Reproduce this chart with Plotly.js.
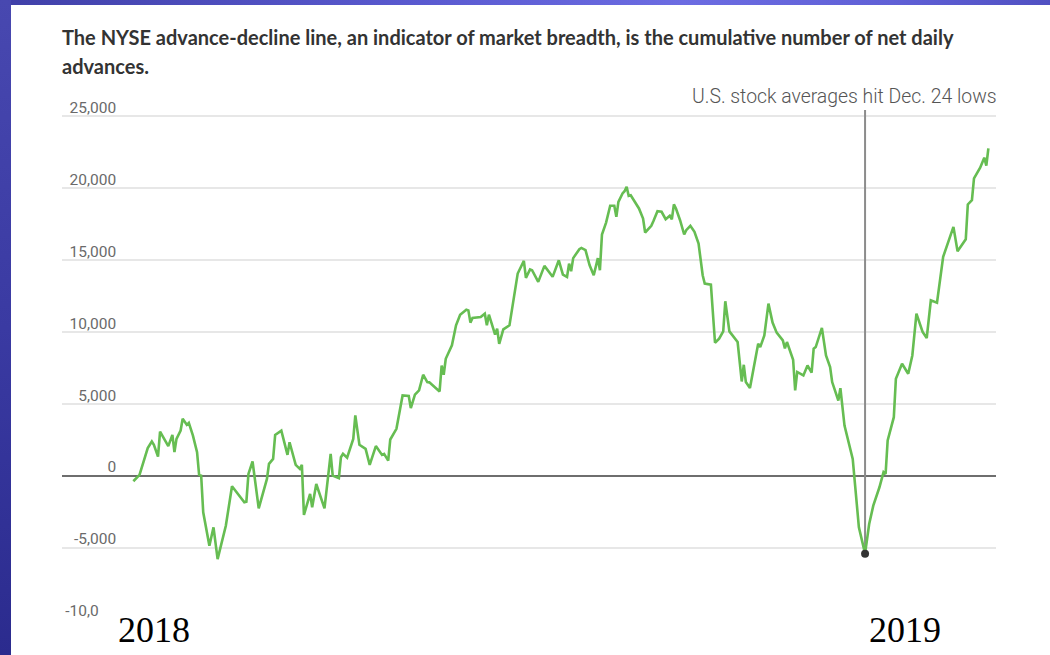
<!DOCTYPE html>
<html>
<head>
<meta charset="utf-8">
<script src="https://cdn.plot.ly/plotly-3.0.1.min.js"></script>
<style>
  html,body{margin:0;padding:0;width:1050px;height:655px;overflow:hidden;background:#fff;}
  #topbar{position:absolute;left:0;top:0;width:1050px;height:5px;background:linear-gradient(to right,#4040a8 0%,#5a5ad0 40%,#6c6ce2 65%,#6060d6 85%,#5050c2 100%);}
  #leftbar{position:absolute;left:0;top:0;width:11px;height:655px;background:linear-gradient(to bottom,#4848b0 0%,#3a3aa2 50%,#2b2b8e 100%);}
  #chart{position:absolute;left:11px;top:5px;width:1039px;height:650px;}
</style>
</head>
<body>
<div id="topbar"></div>
<div id="leftbar"></div>
<div id="chart"></div>
<script>
// ---- data ----
const dates = [
"2018-01-02","2018-01-05","2018-01-09","2018-01-11","2018-01-12","2018-01-14","2018-01-15","2018-01-19","2018-01-21","2018-01-22","2018-01-23","2018-01-25","2018-01-26","2018-01-28","2018-01-29","2018-01-31",
"2018-02-02","2018-02-03","2018-02-04","2018-02-05","2018-02-08","2018-02-10","2018-02-12","2018-02-16","2018-02-19","2018-02-25","2018-02-26","2018-02-27",
"2018-03-01","2018-03-04","2018-03-08","2018-03-09","2018-03-11","2018-03-12","2018-03-15","2018-03-18","2018-03-19","2018-03-22","2018-03-24","2018-03-25","2018-03-26","2018-03-29","2018-03-30",
"2018-04-01","2018-04-05","2018-04-08","2018-04-09","2018-04-12","2018-04-13","2018-04-14","2018-04-16","2018-04-19","2018-04-20","2018-04-22","2018-04-25","2018-04-27","2018-04-30",
"2018-05-03","2018-05-04","2018-05-06","2018-05-07","2018-05-10","2018-05-13","2018-05-16","2018-05-17","2018-05-19","2018-05-21","2018-05-23","2018-05-25","2018-05-26","2018-05-31",
"2018-06-01","2018-06-02","2018-06-03","2018-06-06","2018-06-08","2018-06-10","2018-06-13","2018-06-14","2018-06-15","2018-06-16","2018-06-20","2018-06-22","2018-06-23","2018-06-24","2018-06-25","2018-06-27","2018-06-28","2018-06-29",
"2018-07-01","2018-07-04","2018-07-08","2018-07-11","2018-07-12","2018-07-14","2018-07-15","2018-07-18","2018-07-21","2018-07-25","2018-07-28","2018-07-30",
"2018-08-01","2018-08-02","2018-08-03","2018-08-04","2018-08-07","2018-08-08","2018-08-10","2018-08-12","2018-08-14","2018-08-16","2018-08-17","2018-08-18","2018-08-20","2018-08-22","2018-08-24","2018-08-25","2018-08-26","2018-08-28","2018-08-29","2018-08-30","2018-08-31",
"2018-09-01","2018-09-05","2018-09-07","2018-09-08","2018-09-11","2018-09-12","2018-09-14","2018-09-16","2018-09-18","2018-09-20","2018-09-21","2018-09-22","2018-09-23","2018-09-25","2018-09-27","2018-09-28","2018-09-30",
"2018-10-02","2018-10-04","2018-10-06","2018-10-07","2018-10-10","2018-10-12","2018-10-14","2018-10-16","2018-10-17","2018-10-19","2018-10-23","2018-10-25","2018-10-26","2018-10-27","2018-10-29","2018-10-31",
"2018-11-02","2018-11-03","2018-11-05","2018-11-07","2018-11-09","2018-11-11","2018-11-14","2018-11-15","2018-11-16","2018-11-19","2018-11-20","2018-11-21","2018-11-24","2018-11-26","2018-11-28","2018-11-29","2018-11-30",
"2018-12-03","2018-12-05","2018-12-07","2018-12-08","2018-12-11","2018-12-12","2018-12-14","2018-12-17","2018-12-18","2018-12-21","2018-12-24","2018-12-26","2018-12-27","2018-12-28","2018-12-31",
"2019-01-02","2019-01-03","2019-01-04","2019-01-07","2019-01-08","2019-01-11","2019-01-14","2019-01-16","2019-01-18","2019-01-21","2019-01-23","2019-01-25","2019-01-28","2019-01-31",
"2019-02-05","2019-02-07","2019-02-11","2019-02-12","2019-02-14","2019-02-15","2019-02-18","2019-02-20","2019-02-21","2019-02-22"
];
const advDecline = [
-370,70,1930,2390,2160,1340,3080,2070,2850,1650,2570,3150,3970,3550,3690,2800,
1650,70,20,-2530,-4850,-3570,-5780,-3460,-720,-1830,-1790,140,
1000,-2250,-210,835,1180,2850,3150,1460,2340,770,490,770,-2710,-1250,-2180,
-560,-2250,1530,20,-160,1300,1530,1260,2570,4200,2160,1880,770,2070,
1460,1530,1060,2530,3270,5590,5550,4710,5640,5940,7030,6520,6500,5870,
7670,7030,8140,9070,10460,11200,11550,11500,10650,10970,11040,11270,10460,11200,10690,9810,10230,9180,
10180,10460,14060,14940,13760,14350,14290,13480,14590,13830,14980,13990,
13830,14750,14220,15130,15750,15840,15680,14630,13940,15130,14290,16770,17600,18770,18770,18000,19040,19620,19780,20090,19460,
19500,18580,17880,16910,17370,17690,18390,18350,17830,18070,17830,18860,18580,17760,16770,17070,17370,
16960,16140,13940,13360,13290,9250,9530,10040,12130,10040,9300,6560,7720,6520,6100,7560,
9180,8950,9760,11970,10650,9950,9410,8860,9300,8070,5940,7220,6980,7670,7170,8840,8950,
10280,8370,7560,6520,5240,6100,3500,1650,1180,-3570,-5400,-3340,-2760,-2070,-790,
260,140,2460,4080,6750,7790,7100,8370,11270,10000,9580,12200,12040,15220,
17300,15610,16440,18860,19160,20670,21410,22110,21550,22750
];
const yTickVals = [-10000,-5000,0,5000,10000,15000,20000,25000];
const yTickText = ["-10,000","-5,000","0","5,000","10,000","15,000","20,000","25,000"];
const markerDate = "2018-12-24";
const markerLabel = "U.S. stock averages hit Dec. 24 lows";
const yearLabels = ["2018","2019"];
const titleLine1 = "The NYSE advance-decline line, an indicator of market breadth, is the cumulative number of net daily";
const titleLine2 = "advances.";

const markerValue = advDecline[dates.indexOf(markerDate)];
const yRange = [-10010, 25420];
const xRange = ["2017-11-28 07:00", "2019-02-25 17:00"];

const traces = [
  {x: dates, y: advDecline, type: 'scatter', mode: 'lines',
   line: {color: '#66bd52', width: 2.6}, hoverinfo: 'x+y'},
  {x: [markerDate], y: [markerValue], type: 'scatter', mode: 'markers',
   marker: {color: '#333333', size: 8}, hoverinfo: 'skip'},
  {x: [], y: [], yaxis: 'y2', type: 'scatter', mode: 'lines', hoverinfo: 'skip', showlegend: false}
];

const span = t => '<span style="font-size:20px">' + t + '</span>';

const layout = {
  width: 1039, height: 650,
  margin: {l: 51, r: 54, t: 105, b: 35},
  paper_bgcolor: '#ffffff', plot_bgcolor: '#ffffff',
  showlegend: false,
  title: {
    text: span(titleLine1) + '<br>' + span(titleLine2),
    font: {family: 'Lato, "Open Sans", sans-serif', size: 22, color: '#333333', weight: 700},
    xref: 'container', x: 51/1039, xanchor: 'left',
    yref: 'container', y: 1 - 40/650, yanchor: 'top'
  },
  xaxis: {type: 'date', range: xRange, showgrid: false, zeroline: false,
          showticklabels: false, ticks: '', showline: false, fixedrange: true},
  yaxis: {range: yRange, tickvals: yTickVals, showticklabels: false,
          showgrid: true, gridcolor: '#e7e7e7', gridwidth: 1.5,
          zeroline: true, zerolinecolor: '#6e6e6e', zerolinewidth: 1.6,
          ticks: '', showline: false, fixedrange: true},
  yaxis2: {overlaying: 'y', anchor: 'free', position: 0.058, side: 'left',
           range: yRange, tickvals: yTickVals, ticktext: yTickText,
           showgrid: false, zeroline: false, ticks: '', showline: false,
           ticklabelposition: 'outside top', ticklabelshift: 2, fixedrange: true,
           tickfont: {family: 'Roboto, sans-serif', size: 15.5, color: '#6a6a6a'}},
  shapes: [
    {type: 'line', xref: 'x', yref: 'y', x0: markerDate, x1: markerDate,
     y0: markerValue, y1: yRange[1], line: {color: '#8c8c8c', width: 2}, layer: 'between'},
    {type: 'rect', xref: 'paper', yref: 'paper', x0: 0.0395, x1: 0.1745, y0: -0.07, y1: 0.032,
     fillcolor: '#ffffff', line: {width: 0}, layer: 'above'},
    {type: 'rect', xref: 'paper', yref: 'paper', x0: 0.8426, x1: 0.9797, y0: -0.07, y1: 0.032,
     fillcolor: '#ffffff', line: {width: 0}, layer: 'above'}
  ],
  annotations: [
    {text: markerLabel, xref: 'paper', yref: 'paper', x: 1, xanchor: 'right', xshift: 3,
     y: 1.0255, yanchor: 'middle', showarrow: false,
     font: {family: 'Roboto, sans-serif', size: 19.4, color: '#555555', weight: 300}},
    {text: yearLabels[0], xref: 'paper', yref: 'paper', x: 0.098, xanchor: 'center',
     y: -0.02, yanchor: 'middle', showarrow: false,
     font: {family: '"Liberation Serif", "DejaVu Serif", serif', size: 36, color: '#000000'}},
    {text: yearLabels[1], xref: 'paper', yref: 'paper', x: 0.903, xanchor: 'center',
     y: -0.02, yanchor: 'middle', showarrow: false,
     font: {family: '"Liberation Serif", "DejaVu Serif", serif', size: 36, color: '#000000'}}
  ]
};

Plotly.newPlot('chart', traces, layout, {displayModeBar: false, staticPlot: true});
</script>
</body>
</html>
